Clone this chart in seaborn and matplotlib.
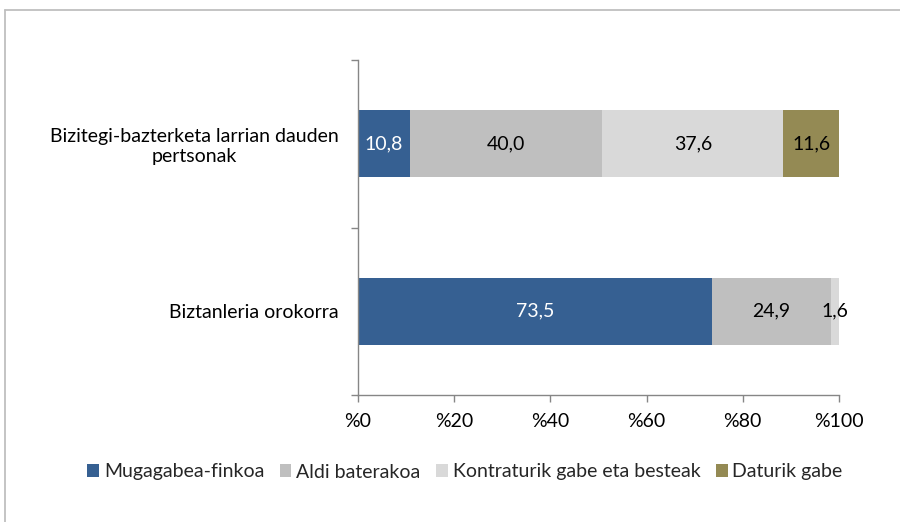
import matplotlib
matplotlib.use("Agg")
import matplotlib.pyplot as plt
import seaborn as sns
import pandas as pd
import numpy as np
from matplotlib.lines import Line2D
from matplotlib.patches import Patch

categories = ["Bizitegi-bazterketa larrian dauden\npertsonak", "Biztanleria orokorra"]
series_names = ["Mugagabea-finkoa", "Aldi baterakoa", "Kontraturik gabe eta besteak", "Daturik gabe"]
mugagabea = [10.8, 73.5]
aldi = [40.0, 24.9]
kontraturik = [37.6, 1.6]
daturik = [11.6, 0.0]
xtick_labels = ["%0", "%20", "%40", "%60", "%80", "%100"]
colors = ["#366092", "#BFBFBF", "#D9D9D9", "#948A54"]
label_colors = ["white", "black", "black", "black"]

sns.set_theme(style="white")
plt.rcParams["font.family"] = ["Lato", "DejaVu Sans"]
FS = 14

values = np.array([mugagabea, aldi, kontraturik, daturik])
cums = np.cumsum(values, axis=0)

fig = plt.figure(figsize=(9, 5.22), dpi=100)
ax = fig.add_axes([358/900, 1-395/522, (839-358)/900, (395-60)/522])

for i in range(len(series_names) - 1, -1, -1):
    df = pd.DataFrame({"cat": categories, "val": cums[i]})
    sns.barplot(data=df, x="val", y="cat", orient="h", color=colors[i],
                width=0.4, ax=ax, saturation=1, linewidth=0)

for i in range(len(series_names)):
    for j in range(len(categories)):
        v = values[i, j]
        if v <= 0:
            continue
        ax.text(cums[i, j] - v / 2, j, f"{v:.1f}".replace(".", ","),
                ha="center", va="center", fontsize=FS, color=label_colors[i])

ax.set_xlim(0, 100)
ax.set_ylim(1.5, -0.5)
ax.set_xticks(np.arange(0, 101, 20))
ax.set_xticklabels(xtick_labels, fontsize=FS, color="black")
ax.set_yticks([0, 1])
ax.set_yticklabels(categories, fontsize=FS, color="black")
for t in ax.get_yticklabels():
    t.set_multialignment("center")
ax.tick_params(axis="y", length=0, pad=14)
ax.tick_params(axis="x", length=5, width=1, color="#868686", direction="out", pad=8, bottom=True)
ax.set_yticks([-0.5, 0.5, 1.5], minor=True)
ax.tick_params(axis="y", which="minor", length=5, width=1, color="#868686", direction="out", left=True)
ax.set_xlabel("")
ax.set_ylabel("")
for s in ["top", "right"]:
    ax.spines[s].set_visible(False)
for s in ["left", "bottom"]:
    ax.spines[s].set_color("#868686")
    ax.spines[s].set_linewidth(1)

handles = [Patch(facecolor=c, edgecolor="none") for c in colors]
fig.legend(handles, series_names, loc="center", bbox_to_anchor=(465/900, 1-472/522),
           ncol=4, frameon=False, fontsize=FS, handlelength=0.6, handleheight=0.6,
           handletextpad=0.25, columnspacing=0.8)

fig.add_artist(Line2D([5/900, 5/900], [0, 1-10/522], transform=fig.transFigure, color="#BFBFBF", lw=1.3))
fig.add_artist(Line2D([5/900, 1], [1-10/522, 1-10/522], transform=fig.transFigure, color="#BFBFBF", lw=1.3))

fig.savefig("out.png", dpi=100)
